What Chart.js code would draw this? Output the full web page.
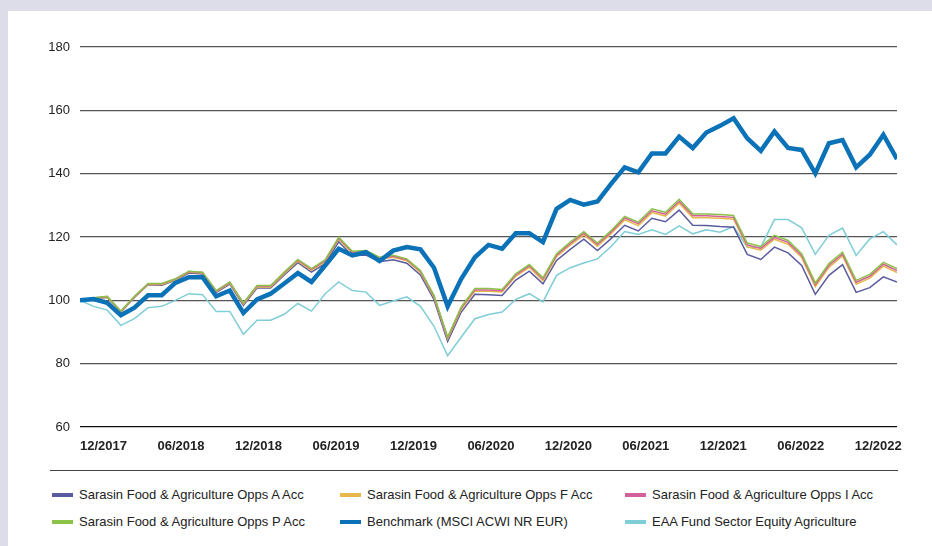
<!DOCTYPE html>
<html>
<head>
<meta charset="utf-8">
<script src="https://cdn.jsdelivr.net/npm/chart.js@4.4.1/dist/chart.umd.min.js"></script>
<style>
  body { margin: 0; width: 932px; height: 546px; overflow: hidden; background: #dcdde8; font-family: "Liberation Sans", Arial, sans-serif; }
  #panel { position: absolute; left: 8px; top: 11px; right: 0; bottom: 0; background: #fff; }
  #chart { position: absolute; left: 0; top: 0; }
  #sep { position: absolute; left: 50px; top: 470px; width: 848px; border-top: 1.5px solid #444; }
  .item { position: absolute; font-size: 13px; color: #222; white-space: nowrap; line-height: 16px; }
  .item i { position: absolute; left: -27px; top: 6px; width: 21px; height: 4px; }
</style>
</head>
<body>
<div id="panel"></div>
<canvas id="chart" width="932" height="460"></canvas>
<div id="sep"></div>
<div id="legend"></div>
<script>
// x axis labels, one every half year
const tickLabels = ["12/2017", "06/2018", "12/2018", "06/2019", "12/2019", "06/2020",
  "12/2020", "06/2021", "12/2021", "06/2022", "12/2022"];

// monthly index values, 12/2017 = 100
const seriesA = [100, 100.5, 100.9, 96.3, 100.9, 104.9, 104.8, 106.3, 108.6, 108.3,
  102.5, 105.1, 98.4, 103.9, 103.9, 108.0, 111.9, 108.9, 111.6, 118.5,
  114.1, 114.3, 112.2, 112.8, 111.7, 108.0, 100.2, 87.0, 96.3, 101.9,
  101.8, 101.5, 106.4, 109.2, 105.2, 112.6, 116.1, 119.3, 115.7, 119.5,
  123.7, 121.9, 125.9, 124.8, 128.5, 123.7, 123.6, 123.3, 123.1, 114.5,
  112.9, 116.8, 115.0, 111.0, 101.9, 107.9, 111.3, 102.5, 104.0, 107.4, 105.8];

const seriesF = [100, 100.6, 101.0, 96.4, 101.0, 105.0, 105.0, 106.5, 108.9, 108.6,
  102.7, 105.4, 98.8, 104.2, 104.2, 108.4, 112.4, 109.5, 112.2, 119.3,
  114.9, 115.1, 113.0, 113.6, 112.5, 108.8, 101.0, 87.8, 97.2, 102.9,
  102.9, 102.6, 107.6, 110.4, 106.2, 113.8, 117.4, 120.7, 117.1, 121.0,
  125.4, 123.6, 127.7, 126.6, 130.7, 126.1, 126.1, 125.9, 125.6, 116.9,
  115.8, 119.3, 117.7, 113.5, 104.3, 110.4, 114.0, 105.1, 107.0, 110.8, 108.8];

const seriesI = [100, 100.7, 101.2, 96.5, 101.2, 105.2, 105.2, 106.7, 109.1, 108.8,
  102.9, 105.6, 99.0, 104.5, 104.5, 108.7, 112.7, 109.8, 112.5, 119.6,
  115.2, 115.4, 113.3, 113.9, 112.8, 109.1, 101.3, 88.1, 97.6, 103.3,
  103.3, 103.0, 108.0, 110.9, 106.7, 114.3, 117.9, 121.2, 117.6, 121.5,
  126.0, 124.2, 128.3, 127.2, 131.3, 126.7, 126.7, 126.5, 126.2, 117.5,
  116.4, 119.9, 118.3, 114.1, 104.9, 111.0, 114.6, 105.7, 107.6, 111.4, 109.4];

const seriesP = [100, 100.8, 101.3, 96.6, 101.3, 105.3, 105.3, 106.8, 109.2, 108.9,
  103.1, 105.8, 99.2, 104.7, 104.7, 108.9, 112.9, 110.0, 112.8, 119.9,
  115.5, 115.7, 113.6, 114.2, 113.1, 109.4, 101.6, 88.4, 97.9, 103.7,
  103.7, 103.4, 108.4, 111.3, 107.1, 114.7, 118.4, 121.7, 118.1, 122.0,
  126.5, 124.7, 128.9, 127.8, 131.9, 127.3, 127.3, 127.1, 126.8, 118.1,
  117.0, 120.5, 118.9, 114.7, 105.5, 111.6, 115.2, 106.3, 108.2, 112.0, 110.0];

const benchmark = [100, 100.4, 99.2, 95.3, 97.7, 101.6, 101.6, 105.5, 107.3, 107.3,
  101.3, 103.1, 96.0, 100.3, 102.1, 105.3, 108.6, 105.8, 111.0, 116.3,
  114.2, 115.2, 112.4, 115.7, 116.8, 116.1, 110.3, 98.1, 106.8, 113.6,
  117.5, 116.3, 121.2, 121.2, 118.4, 128.9, 131.7, 130.2, 131.2, 136.8,
  142.0, 140.4, 146.4, 146.4, 151.7, 148.1, 153.0, 155.1, 157.5, 151.2,
  147.2, 153.3, 148.1, 147.5, 140.1, 149.6, 150.6, 142.0, 146.0, 152.3, 144.6];

const sector = [100, 98.1, 96.9, 92.1, 94.2, 97.7, 98.1, 100.0, 102.1, 101.8,
  96.5, 96.5, 89.3, 93.7, 93.7, 95.6, 99.0, 96.6, 102.1, 105.8,
  103.1, 102.6, 98.4, 99.8, 101.1, 98.1, 91.8, 82.5, 88.4, 94.2,
  95.5, 96.3, 100.3, 102.1, 99.5, 107.9, 110.3, 111.8, 113.1, 117.0,
  121.7, 120.8, 122.3, 120.8, 123.5, 121.0, 122.3, 121.5, 123.3, 116.8,
  116.8, 125.5, 125.5, 122.9, 114.5, 120.5, 122.8, 114.2, 119.4, 121.7, 117.5];

const seriesNames = [
  "Sarasin Food & Agriculture Opps A Acc",
  "Sarasin Food & Agriculture Opps F Acc",
  "Sarasin Food & Agriculture Opps I Acc",
  "Sarasin Food & Agriculture Opps P Acc",
  "Benchmark (MSCI ACWI NR EUR)",
  "EAA Fund Sector Equity Agriculture"
];
const seriesColors = ["#5b5a9f", "#e8b94a", "#d3609b", "#8cc14a", "#0b72b8", "#7fcdd6"];
const seriesValues = [seriesA, seriesF, seriesI, seriesP, benchmark, sector];
const lineWidths = [1.5, 1.5, 1.5, 1.5, 4.5, 1.5];
const drawOrder = [4, 3, 2, 1, 0, 5];

// distance between two x labels, in months
const tickStep = 5.69;

const datasets = seriesValues.map((vals, k) => ({
  label: seriesNames[k],
  data: vals.map((v, i) => ({ x: i, y: v })),
  borderColor: seriesColors[k],
  borderWidth: lineWidths[k],
  order: drawOrder[k],
  pointRadius: 0,
  tension: 0,
  fill: false
}));

new Chart(document.getElementById("chart").getContext("2d"), {
  type: "line",
  data: { datasets: datasets },
  options: {
    responsive: false,
    animation: false,
    layout: { padding: { top: 47, right: 35, left: 0, bottom: 0 } },
    plugins: { legend: { display: false }, tooltip: { enabled: false } },
    scales: {
      x: {
        type: "linear",
        min: 0,
        max: benchmark.length - 1,
        grid: { display: false, drawTicks: false },
        border: { display: false },
        afterBuildTicks: (scale) => {
          scale.ticks = tickLabels.map((_, k) => ({ value: k * tickStep }));
        },
        afterFit: (scale) => { scale.height = 33; },
        ticks: {
          align: "start",
          maxRotation: 0,
          autoSkip: false,
          padding: 12,
          color: "#222",
          font: { family: "'Liberation Sans', Arial, sans-serif", size: 13, weight: "bold" },
          callback: (v, i) => tickLabels[i]
        }
      },
      y: {
        min: 60,
        max: 180,
        afterFit: (scale) => { scale.width = 80; },
        grid: {
          drawTicks: false,
          lineWidth: 1.3,
          color: (c) => (c.tick && c.tick.value === 60 ? "#111" : "#555")
        },
        border: { display: false },
        ticks: {
          stepSize: 20,
          padding: 10,
          color: "#222",
          font: { family: "'Liberation Sans', Arial, sans-serif", size: 13 }
        }
      }
    }
  }
});

// legend: three columns, two rows
const colLeft = [79, 367, 652];
const rowTop = [487, 514];
const legendEl = document.getElementById("legend");
seriesNames.forEach((name, k) => {
  const item = document.createElement("div");
  item.className = "item";
  item.style.left = colLeft[k % 3] + "px";
  item.style.top = rowTop[Math.floor(k / 3)] + "px";
  const swatch = document.createElement("i");
  swatch.style.background = seriesColors[k];
  item.appendChild(swatch);
  item.appendChild(document.createTextNode(name));
  legendEl.appendChild(item);
});
</script>
</body>
</html>
